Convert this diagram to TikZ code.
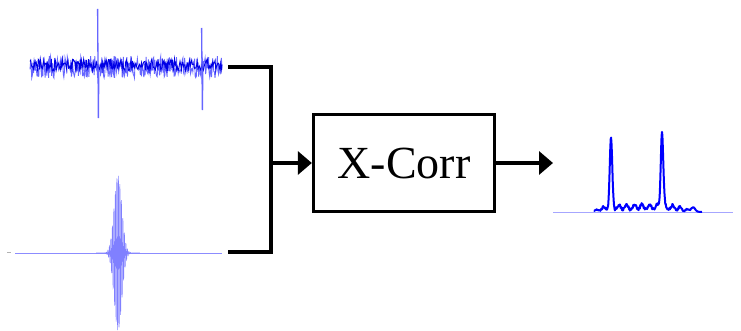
\documentclass[tikz,border=0pt]{standalone}
\usepackage{fontspec}
\setmainfont{Liberation Serif}
\usetikzlibrary{arrows.meta}
\begin{document}
\begin{tikzpicture}[x=1pt,y=-1pt,
  conn/.style={line width=3.3pt,line join=miter},
  arr/.style={line width=3.3pt,-{Triangle[length=14pt,width=23pt]}},
  blockbox/.style={draw,line width=3.3pt,minimum width=181pt,minimum height=97pt,inner sep=0pt,font=\fontsize{46}{50}\selectfont},
  sigA/.style={blue!60,line width=0.9pt},
  sigB/.style={blue!90!black,line width=0.9pt}]
\useasboundingbox[fill=white] (0,0) rectangle (741,331);
\pgfmathsetseed{7}
% top noisy signal
\draw[sigA] plot[domain=30:222,samples=330] (\x,{67+11*rand});
\draw[sigB] plot[domain=30:222,samples=280] (\x,{65+6*rand});
\draw[blue!60,line width=1.3pt] (98,66) -- (97.6,9) -- (98.4,118) -- (98.8,70);
\draw[blue!60,line width=1.3pt] (202,66) -- (201.6,28) -- (202.4,110) -- (202.8,70);
% bottom wavelet signal
\draw[gray!60,line width=0.6pt] (7,252) -- (11,252);
\draw[blue!45,line width=0.9pt] (15,253) -- (222,253);
\draw[blue!50,line width=0.6pt] plot[domain=96:140,samples=441] (\x,{253-78*exp(-(\x-118)*(\x-118)/30)*sin((\x-118)*240)});
% output signal
\draw[blue!35,line width=0.7pt] (553,212) -- (733,212);
\draw[blue,line width=2pt,line join=round] plot[domain=594:702,samples=260] (\x,{212-68*exp(-(\x-611)*(\x-611)/3.0)-77*exp(-(\x-662)*(\x-662)/3.0)-(5+2.5*sin((\x-594)*47)+1.5*rand)*exp(-((\x-645)*(\x-645)/2304)^4)*(1-0.45*exp(-(\x-690)*(\x-690)/200))-4*exp(-(\x-693)*(\x-693)/6)});
% connectors and block
\node[blockbox] (xc) at (404,163) {X-Corr};
\coordinate (s1) at (228,67);
\coordinate (s2) at (228,252);
\coordinate (j) at (271,163);
\coordinate (o) at (553,163);
\draw[conn] (s1) -- (s1 -| j) -- (s2 -| j) -- (s2);
\draw[arr] (j) -- (xc.west);
\draw[arr] (xc.east) -- (o);
\end{tikzpicture}
\end{document}
